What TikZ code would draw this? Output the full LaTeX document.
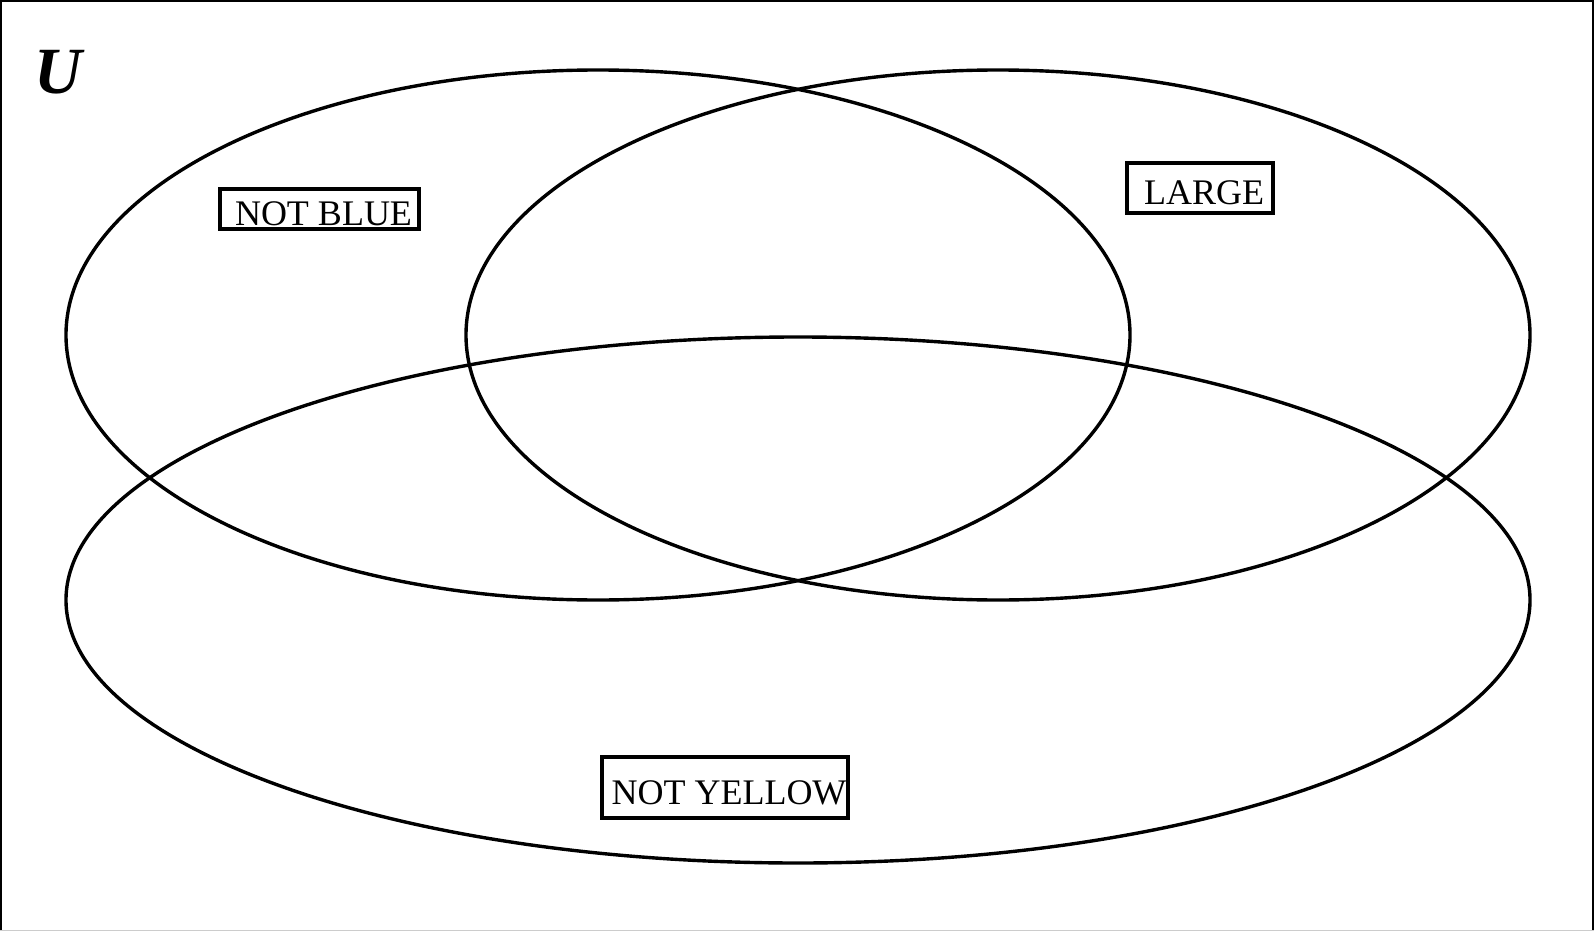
\documentclass[tikz,border=0pt]{standalone}
\usepackage{fontspec}
\setmainfont{Liberation Serif}
\usepackage{tikz}
\usetikzlibrary{positioning}
\tikzset{%
  myset/.style={draw=black, line width=3.4pt},
  mybox/.style={draw=black, line width=3.4pt, inner sep=0pt, text height=33pt, text depth=0pt,
    execute at begin node=\hspace*{8pt}, font=\fontsize{36}{40}\selectfont}
}

\begin{document}
\begin{tikzpicture}[x=1pt, y=-1pt]
  \useasboundingbox (0,0) rectangle (1594,936);
  \draw [line width=1.5pt] (1,930) -- (1,1) -- (1593,1) -- (1593,930);
  \draw [gray!40, line width=1pt] (0,930) -- (1594,930);
  \node (U) at (58,72) {\fontsize{66}{70}\selectfont\bfseries\itshape U};
  % the three sets
  \draw [myset] (598,335) ellipse [x radius=532pt, y radius=265pt];
  \draw [myset] (998,335) ellipse [x radius=532pt, y radius=265pt];
  \draw [myset] (798,600) ellipse [x radius=732pt, y radius=263pt];
  \node [mybox, minimum width=199pt, minimum height=40pt] (blue) at (319.5,209) {NOT BLUE};
  \node [mybox, minimum width=146pt, minimum height=50pt] (large) at (1200,188) {LARGE};
  \node [mybox, minimum width=246pt, minimum height=61pt] (yellow) at (725,787.5) {NOT YELLOW};
\end{tikzpicture}
\end{document}
